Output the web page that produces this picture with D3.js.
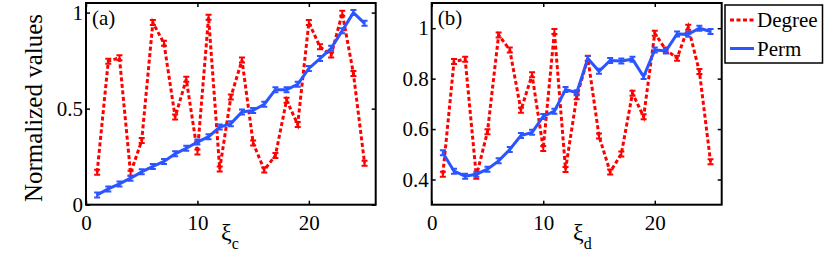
<!DOCTYPE html>
<html>
<head>
<meta charset="utf-8">
<script src="https://cdn.jsdelivr.net/npm/d3@7"></script>
<style>
  body { margin: 0; background: #fff; }
  svg, svg text { font-family: "Liberation Serif", "Times New Roman", Times, "DejaVu Serif", serif !important; }
</style>
</head>
<body>
<div id="chart"></div>
<script>
// chart values
const xIndex = [1,2,3,4,5,6,7,8,9,10,11,12,13,14,15,16,17,18,19,20,21,22,23,24,25];

const degreeA = [0.169,0.747,0.765,0.164,0.334,0.948,0.840,0.456,0.653,0.274,0.976,0.186,0.561,
                 0.753,0.321,0.181,0.256,0.544,0.418,0.948,0.822,0.779,0.997,0.683,0.216];
const permA   = [0.051,0.082,0.108,0.138,0.171,0.199,0.225,0.265,0.294,0.326,0.354,0.404,0.422,
                 0.483,0.491,0.523,0.599,0.599,0.627,0.709,0.761,0.814,0.906,1.000,0.944];

const degreeB = [0.421,0.868,0.877,0.413,0.589,0.973,0.914,0.675,0.815,0.523,0.987,0.440,0.728,
                 0.881,0.572,0.430,0.501,0.742,0.649,0.980,0.914,0.881,1.004,0.828,0.470];
const permB   = [0.506,0.433,0.413,0.421,0.441,0.474,0.519,0.574,0.587,0.650,0.671,0.757,0.744,
                 0.880,0.829,0.872,0.870,0.877,0.808,0.914,0.910,0.977,0.976,1.000,0.987];

const xTickVals = [0,10,20];
const yTicksA = [0,0.5,1];
const yTicksB = [0.4,0.6,0.8,1];
const seriesNames = ["Degree","Perm"];

const RED = "#ff0000", BLUE = "#2a55ff";

const W = 830, H = 255;
const svg = d3.select("#chart").append("svg")
  .attr("width", W).attr("height", H);

function panel(opts) {
  const { left, right, top, bottom, yDomain, yTicks, degree, perm, tag, sub, subX } = opts;
  const x = d3.scaleLinear().domain([0, 26]).range([left, right]);
  const y = d3.scaleLinear().domain(yDomain).range([bottom, top]);
  const g = svg.append("g");

  // axes with inward ticks on all four sides
  const bot = g.append("g").attr("transform", `translate(0,${bottom})`)
    .call(d3.axisBottom(x).tickValues(xTickVals).tickSizeInner(-4).tickSizeOuter(0).tickPadding(10));
  g.append("g").attr("transform", `translate(0,${top})`)
    .call(d3.axisTop(x).tickValues(xTickVals).tickSizeInner(-4).tickSizeOuter(0).tickFormat(""));
  g.append("g").attr("transform", `translate(${left},0)`)
    .call(d3.axisLeft(y).tickValues(yTicks).tickSizeInner(-4).tickSizeOuter(0).tickPadding(3)
      .tickFormat(d => String(d)));
  g.append("g").attr("transform", `translate(${right},0)`)
    .call(d3.axisRight(y).tickValues(yTicks).tickSizeInner(-4).tickSizeOuter(0).tickFormat(""));

  g.selectAll(".domain").remove();
  g.selectAll(".tick line").attr("stroke", "#000").attr("stroke-width", 1.5);
  g.selectAll(".tick text").attr("fill", "#000").style("font-size", "21px");
  bot.selectAll(".tick text").attr("dy", "0.71em");

  // frame
  g.append("rect").attr("x", left).attr("y", top)
    .attr("width", right - left).attr("height", bottom - top)
    .attr("fill", "none").attr("stroke", "#000").attr("stroke-width", 2);

  const line = d3.line().x((d, i) => x(xIndex[i])).y(d => y(d));

  function drawSeries(vals, color, dashed) {
    g.append("path").datum(vals)
      .attr("d", line)
      .attr("fill", "none")
      .attr("stroke", color)
      .attr("stroke-width", 3)
      .attr("stroke-dasharray", dashed ? "4,2.5" : null);
    // tiny error-bar style markers
    g.append("g").selectAll("path").data(vals).join("path")
      .attr("d", (d, i) => {
        const cx = x(xIndex[i]), cy = y(d);
        return `M${cx-3},${cy-2.5}h6M${cx},${cy-2.5}v5M${cx-3},${cy+2.5}h6`;
      })
      .attr("fill", "none").attr("stroke", color).attr("stroke-width", 2);
  }
  drawSeries(degree, RED, true);
  drawSeries(perm, BLUE, false);

  g.append("text").attr("x", left + 6).attr("y", top + 22)
    .style("font-size", "21px").text(tag);

  const lab = g.append("text").attr("x", subX).attr("y", 240).style("font-size", "24px");
  lab.append("tspan").text("ξ");
  lab.append("tspan").attr("dy", 9).style("font-size", "16px").text(sub);
}

panel({ left: 86, right: 375.7, top: 3, bottom: 204.7, yDomain: [0, 1.05], yTicks: yTicksA,
        degree: degreeA, perm: permA, tag: "(a)", sub: "c", subX: 221 });
panel({ left: 431.7, right: 721.7, top: 3, bottom: 204.7, yDomain: [0.3, 1.1], yTicks: yTicksB,
        degree: degreeB, perm: permB, tag: "(b)", sub: "d", subX: 573 });

// y label
svg.append("text")
  .attr("transform", "translate(42,108) rotate(-90)")
  .attr("text-anchor", "middle")
  .style("font-size", "25px")
  .text("Normalized values");

// legend
const leg = svg.append("g");
leg.append("rect").attr("x", 725).attr("y", 5).attr("width", 97.5).attr("height", 58)
  .attr("fill", "#fff").attr("stroke", "#000").attr("stroke-width", 1.5);
seriesNames.forEach((name, i) => {
  const yy = 20 + i * 28.5;
  leg.append("line").attr("x1", 730).attr("x2", 754).attr("y1", yy).attr("y2", yy)
    .attr("stroke", i === 0 ? RED : BLUE).attr("stroke-width", 3)
    .attr("stroke-dasharray", i === 0 ? "4,2.5" : null);
  leg.append("text").attr("x", 757).attr("y", yy + 7).style("font-size", "21px").text(name);
});
</script>
</body>
</html>
